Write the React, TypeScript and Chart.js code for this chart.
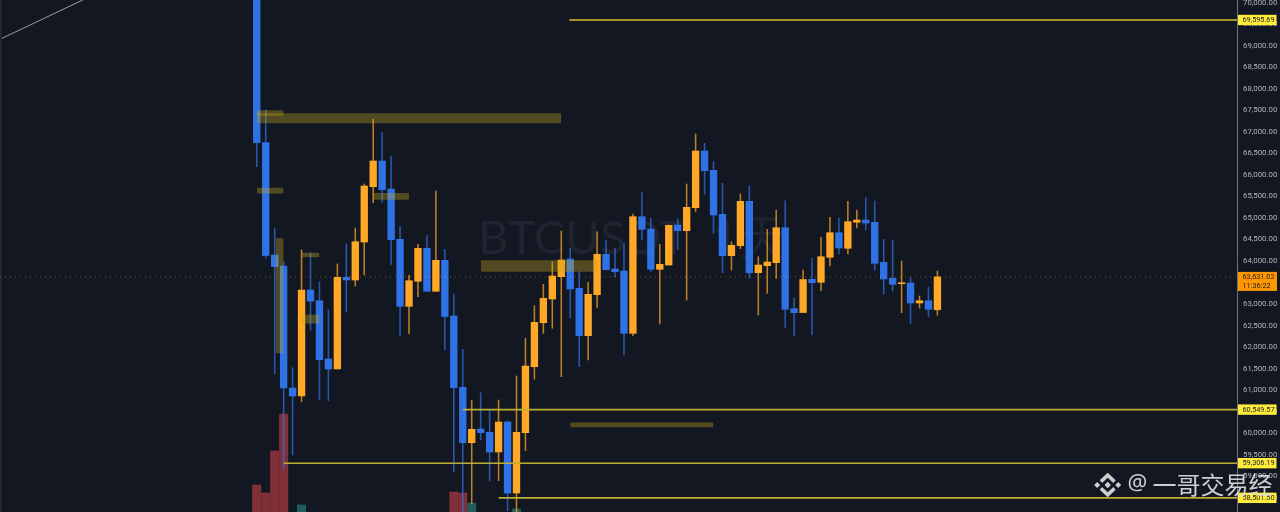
import React, { useEffect, useRef } from "react";
import { Chart, registerables } from "chart.js";

Chart.register(...registerables);

const opens = [70290,66750,64140,63884,61051,60866,63327,63078,61725,61493,63622,63559,64441,65725,66322,65672,64504,62948,63529,64295,63297,64016,62723,61068,59781,60099,60023,59566,60262,58613,60014,61546,62567,63118,63636,64047,63366,62266,63218,64156,63814,63768,62321,65029,64743,63807,63907,64836,64704,65238,66554,66106,65084,64123,64355,65386,63728,63891,63961,64773,62893,62804,63575,63505,64086,64657,64295,64899,64952,64899,63970,63598,63473,63489,63025,63078,62869];
const highs = [70520,67506,64766,63977,61523,64255,64193,63513,62862,63931,64395,64766,65788,67290,66979,66438,64796,63675,64388,64588,65625,64272,63234,61950,60766,60942,60541,60773,60285,61330,62205,62962,63459,63984,64697,64295,63752,63506,64680,64488,64295,64411,65091,65586,64991,64388,64836,64975,65788,66949,66733,66306,65804,64448,65556,65741,64100,64736,65184,65400,63148,63791,64063,64550,65015,64999,65386,65184,65470,65393,64504,64488,64000,63612,63187,63389,63768];
const lows = [66190,64070,61383,59171,59496,60733,62398,60773,60756,61493,62823,63420,63675,65354,65363,63907,62259,62305,63171,63297,63297,61934,59101,58100,58358,59844,58892,58899,58203,58126,59596,61253,62321,62438,61314,62677,61546,61702,62925,63791,63636,61818,62266,64488,63752,62537,63907,64272,63095,65145,65549,64643,63728,63791,64286,63598,62746,63250,63598,62461,62266,62804,62282,63311,63884,64163,64163,64766,64720,63791,63234,63304,62800,62537,62909,62707,62739];
const closes = [66750,64128,63868,61051,60866,63327,63071,61709,61493,63622,63559,64448,65741,66322,65656,64495,62948,63543,64295,63297,64016,62711,61058,59781,60093,60014,59566,60262,58613,60023,61562,62577,63134,63652,64023,63350,62266,63227,64156,63798,63752,62321,65029,64736,63807,63923,64829,64704,65247,66554,66097,65068,64123,64365,65386,63728,63907,63977,64773,62879,62800,63570,63496,64100,64657,64302,64913,64952,64882,63947,63582,63459,63489,63025,63078,62879,63631];

const volumeIndex = [0, 1, 2, 3, 5, 22, 23, 24, 29];
const volumes = [27, 19, 61, 98, 7, 20, 19, 9, 3];

const priceTicks = [58500,59000,59500,60000,60500,61000,61500,62000,62500,63000,63500,64000,64500,65000,65500,66000,66500,67000,67500,68000,68500,69000,69500,70000];

const levels = [69595.69, 60549.57, 59306.19, 58501.5];
const levelStarts = [34.9, 23, 3, 27];

const zoneStarts = [0, 0, 0, 13, 2.1, 5, 5, 25, 35];
const zoneEnds = [34, 3, 3, 17, 3, 7, 7, 38, 51];
const zoneHighs = [67430, 67500, 65700, 65580, 64530, 64190, 62750, 64020, 60250];
const zoneLows = [67200, 67370, 65570, 65420, 61860, 64090, 62550, 63750, 60140];

const trendIndex = [-28.44, -19.43];
const trendPrice = [69171, 70060];

const lastPrice = 63631.02;
const countdown = "11:36:22";
const symbolText = "BTCUSDT  1天";
const authorText = "一哥交易经";

const UP = "#ffa726";
const DOWN = "#2e72e6";
const BG = "#131722";
const AXIS_FONT = "Roboto, 'Liberation Sans', sans-serif";

const fmt = (v: number) =>
  v.toLocaleString("en-US", { minimumFractionDigits: 2, maximumFractionDigits: 2 });

const decor = {
  id: "decor",
  beforeDatasetsDraw(chart: any) {
    const { ctx, chartArea } = chart;
    ctx.save();
    ctx.fillStyle = "#1f2430";
    ctx.font = "47px Lato, sans-serif";
    ctx.textAlign = "left";
    ctx.textBaseline = "alphabetic";
    ctx.fillText(symbolText, 478, 254);
    ctx.fillStyle = "#2a2b30";
    ctx.fillRect(chartArea.left, chartArea.top, 1.5, chartArea.height);
    ctx.restore();
  },
  afterDraw(chart: any) {
    const { ctx, scales } = chart;
    const y = scales.y;
    const axisX = chart.chartArea.right;
    ctx.save();
    ctx.textAlign = "left";
    ctx.textBaseline = "middle";
    ctx.font = `7.3px ${AXIS_FONT}`;
    levels.forEach((p) => {
      const py = y.getPixelForValue(p);
      ctx.fillStyle = "#ffeb3b";
      ctx.fillRect(axisX + 1, py - 5.2, 38.5, 10.4);
      ctx.fillStyle = "#222";
      ctx.fillText(fmt(p), axisX + 5.5, py + 0.5);
    });
    const lp = y.getPixelForValue(lastPrice);
    ctx.fillStyle = "#ff9800";
    ctx.fillRect(axisX + 1, lp - 5, 39, 19);
    ctx.fillStyle = "#1c1c1c";
    ctx.fillText(fmt(lastPrice), axisX + 5.5, lp + 0.3);
    ctx.fillText(countdown, axisX + 5.5, lp + 9);

    // author watermark
    const cx = 1107.7;
    const cy = 485;
    ctx.fillStyle = "rgba(222,222,222,0.92)";
    ctx.strokeStyle = "rgba(222,222,222,0.92)";
    const diamond = (x: number, yy: number, r: number) => {
      ctx.beginPath();
      ctx.moveTo(x - r, yy);
      ctx.lineTo(x, yy - r);
      ctx.lineTo(x + r, yy);
      ctx.lineTo(x, yy + r);
      ctx.closePath();
      ctx.fill();
    };
    diamond(cx, cy, 3.2);
    diamond(cx - 10.5, cy, 3);
    diamond(cx + 10.5, cy, 3);
    ctx.lineWidth = 3.6;
    ctx.lineJoin = "miter";
    ctx.beginPath();
    ctx.moveTo(cx - 6.8, cy - 3.4);
    ctx.lineTo(cx, cy - 9.8);
    ctx.lineTo(cx + 6.8, cy - 3.4);
    ctx.stroke();
    ctx.beginPath();
    ctx.moveTo(cx - 6.8, cy + 3.4);
    ctx.lineTo(cx, cy + 9.8);
    ctx.lineTo(cx + 6.8, cy + 3.4);
    ctx.stroke();
    ctx.textBaseline = "middle";
    ctx.font = "22px 'Noto Sans', sans-serif";
    ctx.fillText("@", 1127.5, 484);
    ctx.font = "24px 'Noto Sans CJK SC', sans-serif";
    ctx.fillText(authorText, 1152.5, 485);
    ctx.restore();
  },
};

export default function App() {
  const ref = useRef<HTMLCanvasElement | null>(null);

  useEffect(() => {
    document.body.style.margin = "0";
    document.body.style.background = BG;
    const indices = opens.map((_, i) => i);
    const colors = opens.map((o, i) => (closes[i] >= o ? UP : DOWN));
    const wickColors = opens.map((o, i) =>
      closes[i] >= o ? "rgba(255,167,38,0.72)" : "rgba(46,114,230,0.72)",
    );
    const zoneColor = "rgba(200,170,30,0.35)";

    const datasets: any[] = [
      {
        type: "bar",
        label: "volume",
        yAxisID: "v",
        data: volumeIndex.map((x, i) => ({ x, y: volumes[i] })),
        backgroundColor: volumeIndex.map((x) =>
          closes[x] >= opens[x] ? "#1f5c5e" : "#7f3038",
        ),
        barThickness: 8.4,
        grouped: false,
        order: 9,
      },
      {
        type: "bar",
        label: "wicks",
        yAxisID: "y",
        data: indices.map((i) => ({ x: i, y: [lows[i], highs[i]] })),
        backgroundColor: wickColors,
        barThickness: 0.9,
        grouped: false,
        order: 8,
      },
      {
        type: "bar",
        label: "bodies",
        yAxisID: "y",
        data: indices.map((i) => ({ x: i, y: [opens[i], closes[i]] })),
        backgroundColor: colors,
        barThickness: 6.7,
        minBarLength: 1,
        grouped: false,
        order: 7,
      },
      ...zoneStarts.map((s, i) => ({
        type: "line",
        label: `zone${i}`,
        yAxisID: "y",
        data: [
          { x: s, y: zoneHighs[i] },
          { x: zoneEnds[i], y: zoneHighs[i] },
        ],
        borderWidth: 0,
        borderColor: "transparent",
        backgroundColor: zoneColor,
        fill: { target: { value: zoneLows[i] }, above: zoneColor, below: zoneColor },
        pointRadius: 0,
        order: 5,
      })),
      ...levels.map((p, i) => ({
        type: "line",
        label: `level${i}`,
        yAxisID: "y",
        data: [
          { x: levelStarts[i], y: p },
          { x: 109.45, y: p },
        ],
        borderColor: i === 0 ? "#d6c12a" : "#bcae32",
        borderWidth: 1.6,
        pointRadius: 0,
        order: 3,
      })),
      {
        type: "line",
        label: "last",
        yAxisID: "y",
        data: [
          { x: -28.67, y: lastPrice },
          { x: 109.45, y: lastPrice },
        ],
        borderColor: "rgba(255,167,38,0.42)",
        borderWidth: 1,
        borderDash: [1, 4],
        pointRadius: 0,
        order: 2,
      },
      {
        type: "line",
        label: "trend",
        yAxisID: "y",
        data: trendIndex.map((x, i) => ({ x, y: trendPrice[i] })),
        borderColor: "#9a9da5",
        borderWidth: 1,
        pointRadius: 0,
        order: 1,
      },
    ];

    const chart = new Chart(ref.current as HTMLCanvasElement, {
      type: "bar",
      data: { datasets },
      plugins: [decor],
      options: {
        animation: false,
        responsive: false,
        devicePixelRatio: 1,
        layout: { padding: 0 },
        plugins: { legend: { display: false }, tooltip: { enabled: false } },
        scales: {
          x: {
            type: "linear",
            display: false,
            offset: false,
            min: -28.67,
            max: 109.45,
          },
          v: { display: false, min: 0, max: 512, position: "left" },
          y: {
            type: "linear",
            position: "right",
            min: 58172.7,
            max: 70060,
            grid: { display: false, drawTicks: false },
            border: { display: true, color: "#6f727a", width: 1 },
            ticks: {
              autoSkip: false,
              padding: 6,
              color: "#b2b5be",
              font: { family: AXIS_FONT, size: 7.8 },
              callback: (v: any) => fmt(Number(v)),
            },
            afterBuildTicks(axis: any) {
              axis.ticks = priceTicks.map((value) => ({ value }));
            },
            afterFit(axis: any) {
              axis.width = 43;
              axis.paddingTop = 0;
              axis.paddingBottom = 0;
            },
          },
        },
      } as any,
    } as any);
    return () => chart.destroy();
  }, []);

  return (
    <div style={{ position: "fixed", left: 0, top: 0, width: 1280, height: 512, background: BG }}>
      <canvas ref={ref} width={1280} height={512} style={{ display: "block" }} />
    </div>
  );
}
